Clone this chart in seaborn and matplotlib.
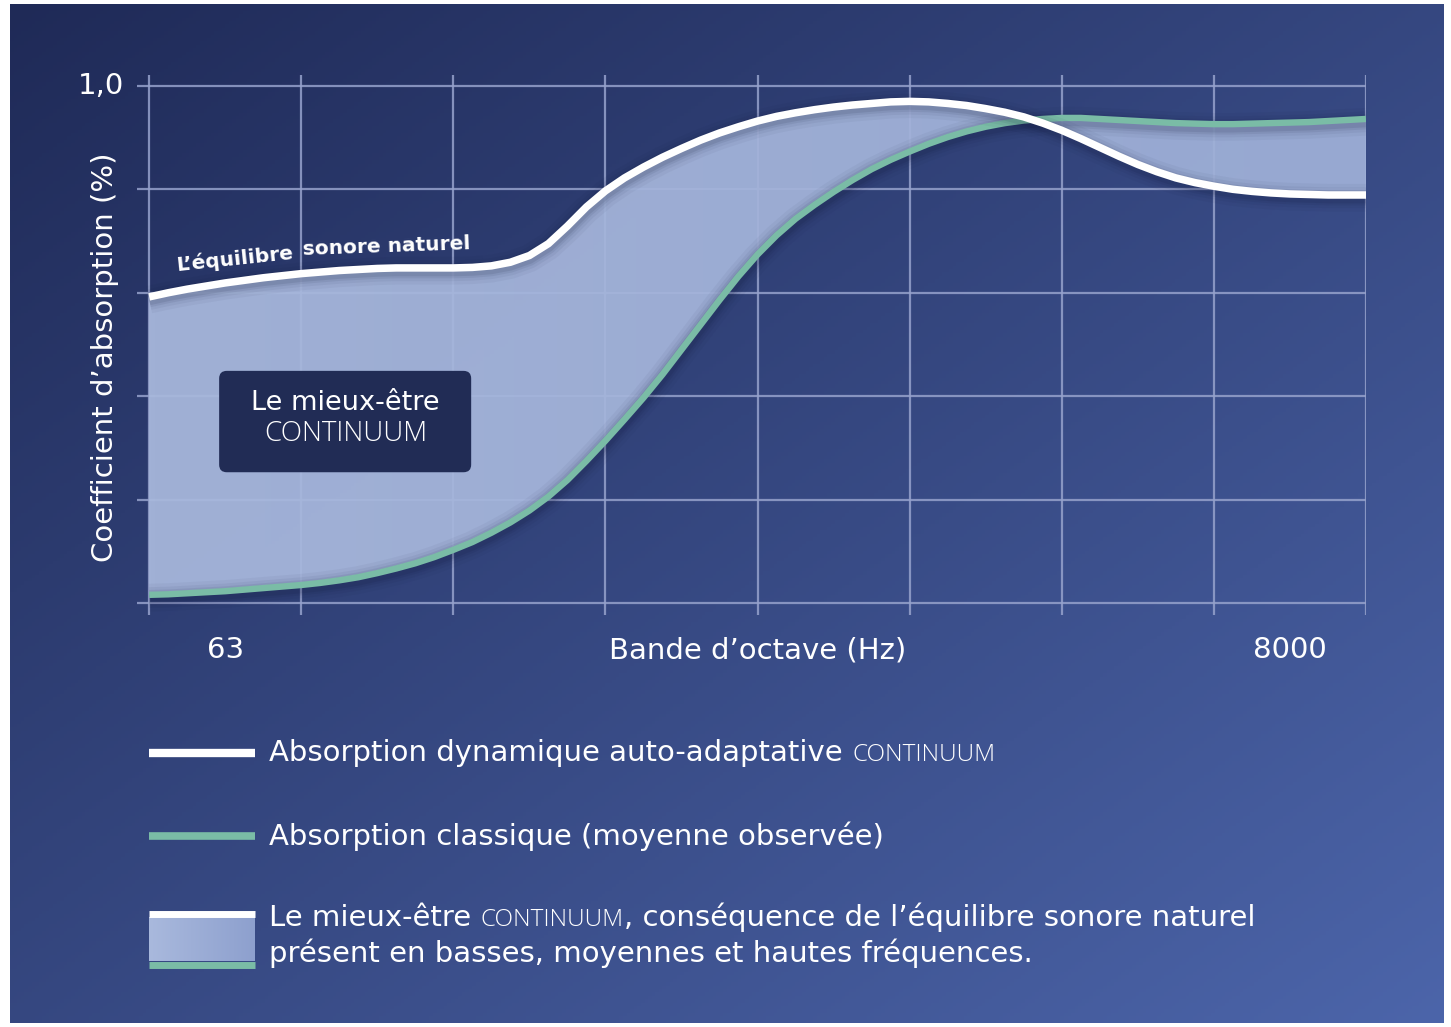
import numpy as np
import pandas as pd
import matplotlib.pyplot as plt
import matplotlib.patheffects as pe
from matplotlib.colors import to_rgb
from matplotlib.lines import Line2D
from matplotlib.patches import FancyBboxPatch, Rectangle
import seaborn as sns

# ---------------------------------------------------------------
# Data (octave band index 0..8, read every 1/8)
# ---------------------------------------------------------------
band_pos = [0.000, 0.125, 0.250, 0.375, 0.500, 0.625, 0.750, 0.875,
            1.000, 1.125, 1.250, 1.375, 1.500, 1.625, 1.750, 1.875,
            2.000, 2.125, 2.250, 2.375, 2.500, 2.625, 2.750, 2.875,
            3.000, 3.125, 3.250, 3.375, 3.500, 3.625, 3.750, 3.875,
            4.000, 4.125, 4.250, 4.375, 4.500, 4.625, 4.750, 4.875,
            5.000, 5.125, 5.250, 5.375, 5.500, 5.625, 5.750, 5.875,
            6.000, 6.125, 6.250, 6.375, 6.500, 6.625, 6.750, 6.875,
            7.000, 7.125, 7.250, 7.375, 7.500, 7.625, 7.750, 7.875,
            8.000]

# "Absorption dynamique auto-adaptative Continuum" (white curve)
continuum = [0.592, 0.600, 0.607, 0.613, 0.619, 0.624, 0.629, 0.633,
             0.637, 0.640, 0.643, 0.645, 0.647, 0.648, 0.648, 0.648,
             0.648, 0.649, 0.652, 0.659, 0.672, 0.695, 0.729, 0.766,
             0.797, 0.822, 0.843, 0.862, 0.879, 0.895, 0.909, 0.921,
             0.932, 0.941, 0.948, 0.954, 0.959, 0.963, 0.966, 0.969,
             0.970, 0.969, 0.966, 0.962, 0.956, 0.949, 0.940, 0.928,
             0.914, 0.898, 0.881, 0.864, 0.848, 0.834, 0.822, 0.813,
             0.806, 0.800, 0.796, 0.793, 0.791, 0.790, 0.789, 0.789,
             0.789]

# "Absorption classique (moyenne observée)" (green curve)
classique = [0.016, 0.017, 0.019, 0.021, 0.023, 0.026, 0.029, 0.032,
             0.035, 0.039, 0.044, 0.050, 0.058, 0.067, 0.077, 0.089,
             0.103, 0.118, 0.136, 0.156, 0.179, 0.206, 0.238, 0.275,
             0.314, 0.355, 0.397, 0.442, 0.490, 0.538, 0.586, 0.632,
             0.674, 0.711, 0.743, 0.770, 0.795, 0.818, 0.839, 0.857,
             0.873, 0.888, 0.901, 0.912, 0.921, 0.928, 0.933, 0.936,
             0.938, 0.938, 0.936, 0.934, 0.932, 0.930, 0.928, 0.927,
             0.926, 0.926, 0.927, 0.928, 0.929, 0.930, 0.932, 0.934,
             0.936]

y_grid = [0.0, 0.2, 0.4, 0.6, 0.8, 1.0]
x_grid = [0, 1, 2, 3, 4, 5, 6, 7, 8]
x_label_pos = [0.5, 4.0, 7.5]
x_labels = ["63", "Bande d\u2019octave (Hz)", "8000"]

legend_texts = [
    "Absorption dynamique auto-adaptative",
    "Absorption classique (moyenne observée)",
    "Le mieux-être",
    ", conséquence de l\u2019équilibre sonore naturel",
    "présent en basses, moyennes et hautes fréquences.",
]

WHITE = "#ffffff"
GREEN = "#7abca6"
GRID = "#96a2cc"
BOX = "#212c55"
LOGO_FONT = ["Open Sans", "DejaVu Sans"]

df = pd.DataFrame({"band": band_pos, "continuum": continuum, "classique": classique})

sns.set_theme(style="white")
plt.rcParams["font.family"] = ["DejaVu Sans"]

W, H = 1451, 1027
fig = plt.figure(figsize=(W / 100, H / 100), dpi=100)
fig.patch.set_facecolor("white")

# diagonal gradient panel behind everything
bg = fig.add_axes([10 / W, 4 / H, 1434 / W, 1019 / H], zorder=-1)
U, V = np.meshgrid(np.linspace(0, 1, 400), np.linspace(0, 1, 300))
t = (U + V) / 2
c0, c1 = np.array(to_rgb("#1f2a57")), np.array(to_rgb("#4c65aa"))
bg.imshow(c0 + (c1 - c0) * t[..., None], aspect="auto", extent=(0, 1, 0, 1), origin="upper")
bg.axis("off")

# main plot
ax = fig.add_axes([137 / W, 1 - 615 / H, 1229 / W, 540 / H])
ax.patch.set_alpha(0)

band = ax.fill_between(df["band"], df["classique"], df["continuum"], color="none", lw=0)
fc0, fc1 = np.array(to_rgb("#a9b9dd")), np.array(to_rgb("#9eafd7"))
gx = np.linspace(0, 1, 200)[None, :, None]
grad = np.repeat(fc0 + (fc1 - fc0) * gx, 2, axis=0)
im = ax.imshow(grad, extent=(0, 8, 0, 1), aspect="auto", zorder=1, alpha=0.94)
im.set_clip_path(band.get_paths()[0], transform=ax.transData)

# soft drop shadow: a few wide, faint strokes under each curve
shadow = [pe.SimpleLineShadow(offset=(0, -2), shadow_color="#0b1232", alpha=a, linewidth=w)
          for w, a in [(20, 0.04), (15, 0.05), (11, 0.07), (8, 0.09)]] + [pe.Normal()]
sns.lineplot(data=df, x="band", y="classique", color=GREEN, lw=4.6, ax=ax, zorder=3,
             solid_capstyle="butt", solid_joinstyle="round", path_effects=shadow)
sns.lineplot(data=df, x="band", y="continuum", color=WHITE, lw=5.4, ax=ax, zorder=4,
             solid_capstyle="butt", solid_joinstyle="round", path_effects=shadow)

ax.set_xlim(-0.08, 8.0)
ax.set_ylim(-0.023, 1.021)
ax.set_xticks(x_grid)
ax.set_yticks(y_grid)
ax.grid(True, color=GRID, lw=1.6, alpha=0.85)
ax.tick_params(length=0, labelleft=False, labelbottom=False)
ax.set(xlabel="", ylabel="")
sns.despine(ax=ax, left=True, bottom=True)

for xp, lab in zip(x_label_pos, x_labels):
    ax.text(xp, -0.091, lab, ha="center", va="center", fontsize=21, color=WHITE)
ax.annotate("1,0", xy=(0, 1.0), xycoords=("axes fraction", "data"), xytext=(-13, 0),
            textcoords="offset pixels", ha="right", va="center", fontsize=21, color=WHITE)
fig.text(105 / W, 1 - 357 / H, "Coefficient d\u2019absorption (%)", rotation=90,
         ha="center", va="center", fontsize=21, color=WHITE)

# curve label, bent in two pieces along the white curve
ax.text(0.559, 0.665, "L\u2019équilibre", rotation=6, ha="center", va="center",
        fontsize=14.5, fontweight="bold", color=WHITE)
ax.text(1.560, 0.689, "sonore naturel", rotation=2, ha="center", va="center",
        fontsize=14.5, fontweight="bold", color=WHITE)

# dark box
ax.add_patch(FancyBboxPatch((0.46, 0.253), 1.657, 0.196,
                            boxstyle="round,pad=0,rounding_size=0.05",
                            mutation_aspect=152.1 / 517, fc=BOX, ec="none", zorder=5))
ax.text(1.29, 0.386, "Le mieux-être", ha="center", va="center", fontsize=19.5,
        color=WHITE, zorder=6)
ax.text(1.29, 0.326, "CONTINUUM", ha="center", va="center", fontsize=20,
        fontweight="light", family=LOGO_FONT, color=WHITE, zorder=6)

# legend (custom, below the plot)
fig.add_artist(Line2D([149 / W, 255 / W], [1 - 753 / H] * 2, color=WHITE, lw=6,
                      solid_capstyle="butt"))
fig.add_artist(Line2D([149 / W, 255 / W], [1 - 836 / H] * 2, color=GREEN, lw=5.5,
                      solid_capstyle="butt"))
sw = fig.add_axes([149 / W, 1 - 961 / H, 106 / W, 44 / H])
sw.imshow(np.repeat(fc0 + (fc1 - fc0) * gx * 2.5, 2, axis=0).clip(0, 1),
          aspect="auto", extent=(0, 1, 0, 1))
sw.axis("off")
fig.add_artist(Line2D([149 / W, 255 / W], [1 - 913.5 / H] * 2, color=WHITE, lw=5,
                      solid_capstyle="butt"))
fig.add_artist(Line2D([149 / W, 255 / W], [1 - 964.5 / H] * 2, color=GREEN, lw=5,
                      solid_capstyle="butt"))

kw = dict(fontsize=21, color=WHITE)
logo_kw = dict(fontsize=17.5, fontweight="light", family=LOGO_FONT, color=WHITE,
               annotation_clip=False)
t1 = fig.text(269 / W, 1 - 753 / H, legend_texts[0], va="center", **kw)
ax.annotate("CONTINUUM", xy=(1, 0), xycoords=t1, xytext=(7, 0), textcoords="offset points",
            va="bottom", **logo_kw)
fig.text(269 / W, 1 - 836 / H, legend_texts[1], va="center", **kw)
t3 = fig.text(269 / W, 1 - 918 / H, legend_texts[2], va="center", **kw)
t4 = ax.annotate("CONTINUUM", xy=(1, 0), xycoords=t3, xytext=(7, 0), textcoords="offset points",
                 va="bottom", **logo_kw)
ax.annotate(legend_texts[3], xy=(1, 0), xycoords=t4, xytext=(0, 0), textcoords="offset points",
            va="bottom", annotation_clip=False, **kw)
fig.text(269 / W, 1 - 953 / H, legend_texts[4], va="center", **kw)

fig.savefig("out.png", dpi=100)
